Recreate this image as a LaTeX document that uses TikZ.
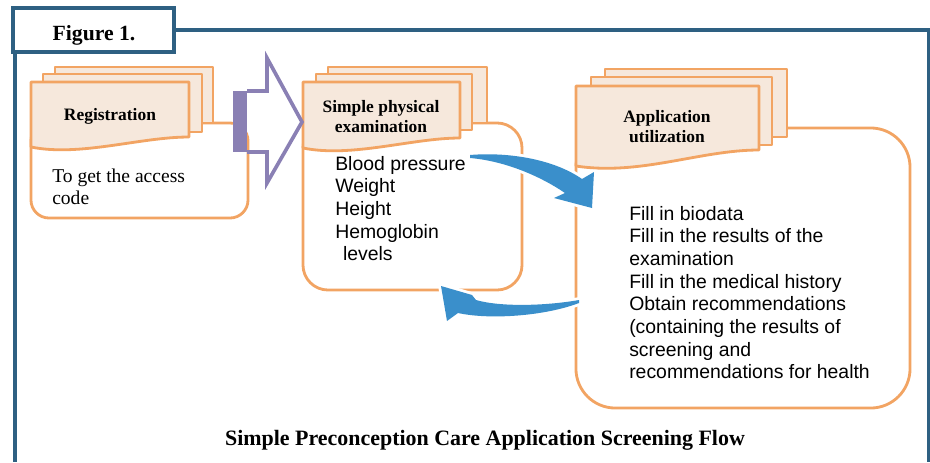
\documentclass[tikz,border=0pt]{standalone}
\usepackage{fontspec}
\setmainfont{Liberation Serif}
\newfontfamily\arialfont{Liberation Sans}
\definecolor{framecol}{HTML}{2E6082}
\definecolor{pageline}{HTML}{F2A463}
\definecolor{pagefill}{HTML}{F6E8DC}
\definecolor{arrowcol}{HTML}{8A80B4}
\definecolor{flowcol}{HTML}{3A8FCB}
\begin{document}
\begin{tikzpicture}[x=0.025cm,y=-0.025cm,
	frame/.style={line width=2.8pt,draw=framecol},
	page/.style={line width=2pt,draw=pageline,fill=pagefill,line join=round},
	content/.style={line width=2pt,draw=pageline,fill=white,inner sep=0pt},
	title/.style={font=\fontsize{12.4}{14.2}\selectfont\bfseries,align=center,inner sep=0pt},
	item/.style={font=\arialfont\fontsize{13.8}{16.1}\selectfont,align=left,anchor=north west,inner sep=0pt},
	flow/.style={fill=flowcol,preaction={draw=white,line width=4pt,line join=round}}
]
\useasboundingbox (0,0) rectangle (930,462);
%\draw[help lines,step=50] (0,0) grid (930,462);
	% outer frame
	\draw[frame] (15,52) -- (15,462);
	\draw[frame] (174,30) -- (929,30) -- (929,462);
	\draw[frame,fill=white] (13,8) rectangle (174,52);
	\node[anchor=base,font=\fontsize{15.4}{18}\selectfont\bfseries] (figlabel) at (94,40) {Figure 1.};

	% content boxes
	\node[content,rounded corners=12.8pt,minimum width=5.425cm,minimum height=2.375cm] (regbox) at (139.5,170.5) {};
	\node[content,rounded corners=17.8pt,minimum width=5.475cm,minimum height=4.175cm] (physbox) at (412.5,206.5) {};
	\node[content,rounded corners=28pt,minimum width=8.35cm,minimum height=7cm] (appbox) at (743,268) {};

	% page stacks
	\draw[page] (55,67) rectangle (213,123);
	\draw[page] (43,74) rectangle (202,132);
	\draw[page] (31,82) -- (189,82) -- (189,137) .. controls (140,137) and (80,157) .. (31,147) -- cycle;
	\draw[page] (328,67) rectangle (487,123);
	\draw[page] (316,74) rectangle (472,130);
	\draw[page] (303,82) -- (460,82) -- (460,138) .. controls (412,138) and (352,158) .. (303,148) -- cycle;
	\draw[page] (605,69) rectangle (787,137);
	\draw[page] (591,77) rectangle (772,145);
	\draw[page] (576,86) -- (759,86) -- (759,150) .. controls (700,150) and (640,176) .. (576,166) -- cycle;

	\node[title,anchor=base] (reg) at (110,120) {Registration};
	\node[title,anchor=north] (phys) at (381,100) {Simple physical\\examination};
	\node[title,anchor=north] (app) at (667,110) {Application\\utilization};

	% block arrow
	\fill[arrowcol] (233,91) rectangle (247,152);
	\draw[arrowcol,line width=2.6pt,line join=miter] (247,91) -- (267,91) -- (267,58) -- (302,122) -- (267,183) -- (267,152) -- (247,152);

	% curved arrows
	\fill[flow] (470,155) .. controls (505,152) and (552,158) .. (582,179) -- (594,172) -- (592,208) -- (554,198) -- (565,193) .. controls (540,176) and (505,161) .. (470,158) -- cycle;
	\fill[flow] (579,300) .. controls (545,306) and (500,307) .. (476,300) -- (472,295) -- (441,286) -- (447,321) -- (458,313) .. controls (490,320) and (545,316) .. (579,303) -- cycle;

	% texts
	\node[item,font=\fontsize{13.9}{15.5}\selectfont] (regtext) at (52,168.5) {To get the access\\code};
	\node[item] (phystext) at (335,156) {Blood pressure\\Weight\\Height\\Hemoglobin\\\hspace*{5.5pt}levels};
	\node[item] (apptext) at (629,206) {Fill in biodata\\Fill in the results of the\\examination\\Fill in the medical history\\Obtain recommendations\\(containing the results of\\screening and\\recommendations for health};

	\node[anchor=base,font=\fontsize{15.6}{18}\selectfont\bfseries] (caption) at (485,445) {Simple Preconception Care Application Screening Flow};
\end{tikzpicture}
\end{document}
